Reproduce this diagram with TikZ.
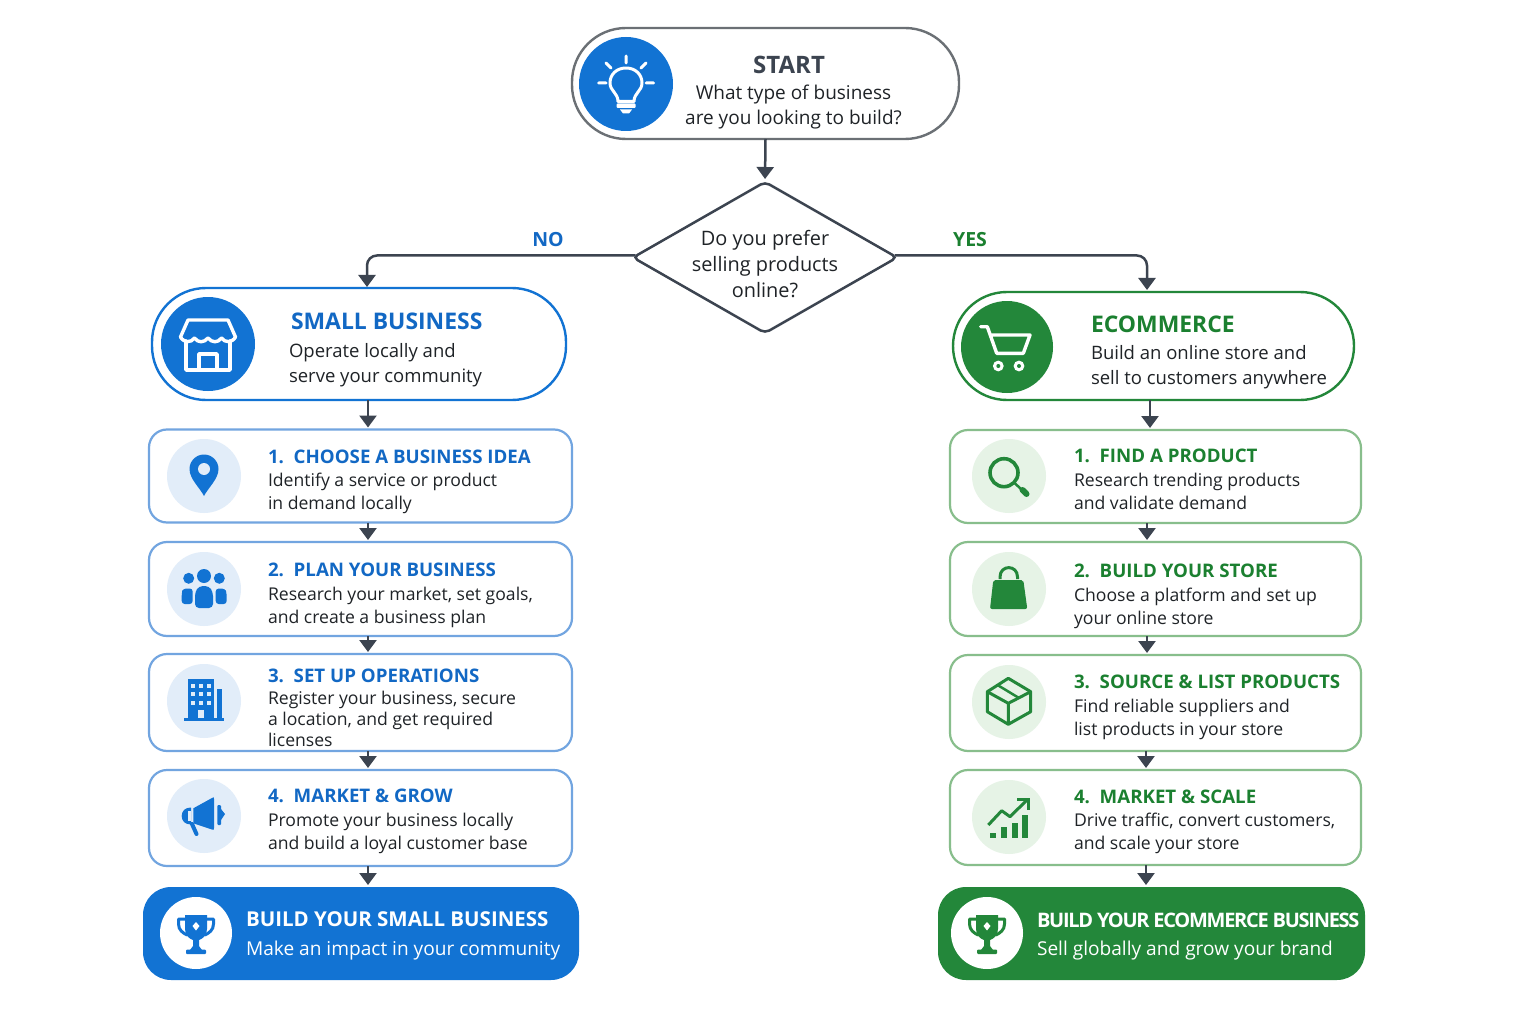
\documentclass[tikz,border=0pt]{standalone}
\usepackage{fontspec}
\setmainfont{Open Sans}
\usetikzlibrary{shapes.geometric,arrows.meta,calc}
\definecolor{ink}{HTML}{1F2327}
\definecolor{slate}{HTML}{3C4450}
\definecolor{pillgray}{HTML}{6B7075}
\definecolor{blue}{HTML}{1273D3}
\definecolor{bluet}{HTML}{1268C4}
\definecolor{blueline}{HTML}{72A5E0}
\definecolor{bluesoft}{HTML}{E2EDF9}
\definecolor{green}{HTML}{23873A}
\definecolor{greent}{HTML}{1B8030}
\definecolor{greenline}{HTML}{88BE8C}
\definecolor{greensoft}{HTML}{E6F3E6}
\newcommand\fsz[2]{\fontsize{#1}{#2}\selectfont}
\newcommand\ph{\vphantom{Ayg}}
\tikzset{
 pill/.style={draw,fill=white,rectangle,rounded corners=54pt,line width=2.4pt,inner sep=0,outer sep=0},
 cardbox/.style={draw,fill=white,rectangle,rounded corners=18pt,line width=2.2pt,inner sep=0,outer sep=0},
 endbox/.style={fill=#1,rectangle,rounded corners=28pt,inner sep=0,outer sep=0},
 disc/.style={circle,fill=#1,inner sep=0,outer sep=0},
 flow/.style={draw=slate,line width=2.5pt,shorten >=#1,-{Triangle[length=12pt,width=17pt]}},
 flow/.default=2pt,
 txt/.style={inner sep=0,outer sep=0,anchor=west,align=left},
 ptxt/.style={txt,execute at begin node=\ph,execute at end node=\ph},
 body/.style={ptxt,text=ink,font=\fsz{17.6}{23},yshift=-2pt},
 sbody/.style={ptxt,text=ink,font=\fsz{18.5}{25},yshift=-2.7pt},
 ctitle/.style={txt,text=#1,font=\fsz{18.7}{22}\bfseries},
 htitle/.style={txt,text=#1,font=\fsz{22.9}{26}\bfseries},
 ftitle/.style={txt,text=white,font=\fsz{20.5}{26}\bfseries},
 fbody/.style={ptxt,text=white,font=\fsz{19.1}{26},yshift=-2.7pt},
 ic/.style={draw=white,line width=3pt,line cap=round,line join=round},
}
\newcommand\icontrophy[1]{%
 \fill[#1] (-11,-18) -- (11,-18) -- (11,-4) .. controls (11,3) and (6,6) .. (3,7) -- (3,13) -- (6,17) -- (-6,17) -- (-3,13) -- (-3,7) .. controls (-6,6) and (-11,3) .. (-11,-4) -- cycle;
 \fill[#1,rounded corners=1pt] (-10,16.5) rectangle (10,21);
 \draw[#1,line width=3pt,line join=round,line cap=round] (-11,-14) -- (-17.5,-14) -- (-17.5,-9) .. controls (-17.5,-3) and (-13,0) .. (-9,2);
 \draw[#1,line width=3pt,line join=round,line cap=round] (11,-14) -- (17.5,-14) -- (17.5,-9) .. controls (17.5,-3) and (13,0) .. (9,2);
 \fill[white] (0,-11) -- (3.5,-7) -- (0,-2.5) -- (-3.5,-7) -- cycle;
}
\begin{document}
\begin{tikzpicture}[x=1pt,y=-1pt]
\useasboundingbox (0,0) rectangle (1536,1024);
\fill[white] (0,0) rectangle (1536,1024);

% top
\node[pill,draw=pillgray,minimum width=387pt,minimum height=111pt] (start) at (765.5,83.5) {};
\node[disc=blue,minimum size=94pt] (startic) at (626,84) {};
\begin{scope}[shift={(626,84)}]
 \draw[ic] (-8,17.5) .. controls (-8,9) and (-16,7) .. (-16,-1) .. controls (-16,-10) and (-9,-16) .. (0,-16) .. controls (9,-16) and (16,-10) .. (16,-1) .. controls (16,7) and (8,9) .. (8,17.5) -- cycle;
 \draw[ic] (0,-28) -- (0,-21) (-20,-21) -- (-15,-16) (20,-21) -- (15,-16) (-27.5,-1) -- (-20,-1) (27.5,-1) -- (20,-1);
 \fill[white,rounded corners=1pt] (-9.5,19.5) rectangle (9.5,24);
 \fill[white] (-6,25.5) -- (6,25.5) -- (3,29.5) -- (-3,29.5) -- cycle;
\end{scope}
\node[txt,anchor=center,text=slate,font=\fsz{24}{28}\bfseries] (starttitle) at (789,65) {START};
\node[sbody,anchor=center,align=center,font=\fsz{19}{25}] (starttext) at (793.5,104.5) {What type of business\\are you looking to build?};

\node[draw=slate,fill=white,diamond,aspect=1.75,minimum width=264pt,minimum height=151pt,rounded corners=5pt,line width=2.5pt,inner sep=0,outer sep=0] (q) at (765,257.5) {};
\node[sbody,anchor=center,align=center,font=\fsz{19.9}{26}] (qtext) at (765,263.5) {Do you prefer\\selling products\\online?};

\node[txt,anchor=center,text=bluet,font=\fsz{19.5}{24}\bfseries] (nolabel) at (548,240) {NO};
\node[txt,anchor=center,text=greent,font=\fsz{19.5}{24}\bfseries] (yeslabel) at (970,240) {YES};

% branch heads
\node[pill,draw=blue,minimum width=414pt,minimum height=112pt] (sb) at (359,344) {};
\node[disc=blue,minimum size=94pt] (sbic) at (208,344) {};
\begin{scope}[shift={(208,344)}]
 \draw[ic,line width=3.4pt] (-20,-24) -- (20,-24) -- (27.5,-7) .. controls (24,-1) and (17,-1) .. (13.5,-6) .. controls (10,-1) and (4,-1) .. (0,-6) .. controls (-4,-1) and (-10,-1) .. (-13.5,-6) .. controls (-17,-1) and (-24,-1) .. (-27.5,-7) -- cycle;
 \draw[ic,line width=3.4pt] (-22,-3) -- (-22,26) -- (22,26) -- (22,-3);
 \draw[ic,line width=3.8pt] (-9,26) -- (-9,10) -- (9,10) -- (9,26);
\end{scope}
\node[htitle=bluet] (sbtitle) at (291,321) {SMALL BUSINESS};
\node[sbody] (sbtext) at (289,362.5) {Operate locally and\\serve your community};

\node[pill,draw=green,minimum width=401pt,minimum height=108pt] (ec) at (1153.5,346) {};
\node[disc=green,minimum size=92pt] (ecic) at (1007,347) {};
\draw[ic,line width=3.4pt] (980.7,326.7) -- (987.3,326.7) -- (996.7,353.3) -- (1023.3,353.3) -- (1030,335) -- (990,335);
\fill[white] (998.3,366) circle (5.4);
\fill[white] (1019,366) circle (5.4);
\fill[green] (998.3,366) circle (2);
\fill[green] (1019,366) circle (2);
\node[htitle=greent] (ectitle) at (1091,324) {ECOMMERCE};
\node[sbody] (ectext) at (1091,364.5) {Build an online store and\\sell to customers anywhere};

% left cards
\node[cardbox,draw=blueline,minimum width=423pt,minimum height=93pt] (l1) at (360.5,476) {};
\node[cardbox,draw=blueline,minimum width=423pt,minimum height=94pt] (l2) at (360.5,589) {};
\node[cardbox,draw=blueline,minimum width=423pt,minimum height=97pt] (l3) at (360.5,702.5) {};
\node[cardbox,draw=blueline,minimum width=423pt,minimum height=96pt] (l4) at (360.5,818) {};
\node[disc=bluesoft,minimum size=74pt] (l1ic) at (204,476) {};
\node[disc=bluesoft,minimum size=74pt] (l2ic) at (204,589) {};
\node[disc=bluesoft,minimum size=74pt] (l3ic) at (204,701) {};
\node[disc=bluesoft,minimum size=74pt] (l4ic) at (204,816) {};
% pin
\begin{scope}[shift={(204,476)}]
 \fill[blue] (0,20) .. controls (-4,12) and (-14.5,3) .. (-14.5,-7) .. controls (-14.5,-15) and (-8,-21.5) .. (0,-21.5) .. controls (8,-21.5) and (14.5,-15) .. (14.5,-7) .. controls (14.5,3) and (4,12) .. (0,20) -- cycle;
 \fill[bluesoft] (0,-7) circle (6);
\end{scope}
% people
\fill[blue] (204,576) circle (7);
\fill[blue] (188.7,578.3) circle (5.5);
\fill[blue] (219.3,578.3) circle (5.5);
\fill[blue,rounded corners=3pt] (181.7,604) -- (181.7,593) -- (183,588.5) -- (192.7,588.5) -- (192.7,604) -- cycle;
\fill[blue,rounded corners=3pt] (226.7,604) -- (226.7,593) -- (225,588.5) -- (215.7,588.5) -- (215.7,604) -- cycle;
\fill[blue,rounded corners=4pt] (195,608) -- (195,592) -- (199,586) -- (209,586) -- (213,592) -- (213,608) -- cycle;
% building
\fill[blue] (187.7,679.3) rectangle (214,718.5);
\fill[blue] (217.3,689) rectangle (221.7,718.5);
\fill[blue] (184.3,718) rectangle (224.3,721.3);
\foreach \cx in {193.3,201,208.7} \foreach \cy in {686,694.3,702.7} \fill[bluesoft] (\cx-2,\cy-2) rectangle (\cx+2,\cy+2);
\fill[bluesoft] (198,710) rectangle (204,718);
% megaphone
\fill[blue] (193.3,808.3) -- (212,798) .. controls (214,797) and (214,797) .. (214,799) -- (214,828) .. controls (214,830) and (214,830) .. (212,829.5) -- (193.3,823.3) -- cycle;
\fill[blue] (191,807.5) .. controls (185,807.5) and (181.7,811) .. (181.7,816) .. controls (181.7,821) and (185,824.5) .. (191,824.5) -- cycle;
\fill[bluesoft] (187.5,811) rectangle (190.5,821);
\draw[blue,line width=4pt,line cap=round] (192,824) -- (196.5,834);
\fill[blue,rounded corners=1pt] (217.3,805) rectangle (221,825);
\fill[blue] (221,809) -- (225,814) -- (221,820) -- cycle;

\node[ctitle=bluet] (l1t) at (268,456.5) {1.\ \ CHOOSE A BUSINESS IDEA};
\node[body] (l1b) at (268,491.5) {Identify a service or product\\in demand locally};
\node[ctitle=bluet] (l2t) at (268,570) {2.\ \ PLAN YOUR BUSINESS};
\node[body] (l2b) at (268,605.5) {Research your market, set goals,\\and create a business plan};
\node[ctitle=bluet] (l3t) at (268,676) {3.\ \ SET UP OPERATIONS};
\node[body,font=\fsz{17.6}{21}] (l3b) at (268,719) {Register your business, secure\\a location, and get required\\licenses};
\node[ctitle=bluet] (l4t) at (268,796) {4.\ \ MARKET \& GROW};
\node[body] (l4b) at (268,831.5) {Promote your business locally\\and build a loyal customer base};

% right cards
\node[cardbox,draw=greenline,minimum width=411pt,minimum height=93pt] (r1) at (1155.5,476.5) {};
\node[cardbox,draw=greenline,minimum width=411pt,minimum height=94pt] (r2) at (1155.5,589) {};
\node[cardbox,draw=greenline,minimum width=411pt,minimum height=96pt] (r3) at (1155.5,703) {};
\node[cardbox,draw=greenline,minimum width=411pt,minimum height=95pt] (r4) at (1155.5,817.5) {};
\node[disc=greensoft,minimum size=74pt] (r1ic) at (1009,476) {};
\node[disc=greensoft,minimum size=74pt] (r2ic) at (1009,589) {};
\node[disc=greensoft,minimum size=74pt] (r3ic) at (1009,702) {};
\node[disc=greensoft,minimum size=74pt] (r4ic) at (1009,817) {};
% magnifier
\draw[green,line width=3.6pt] (1004,472.7) circle (14);
\draw[green,line width=2.5pt] (1014.5,483) -- (1021,489);
\draw[green,line width=6pt,line cap=round] (1022.5,490) -- (1026.5,494);
% bag
\fill[green,rounded corners=2pt] (993.3,580) -- (1023.3,580) -- (1027.3,609) -- (990,609) -- cycle;
\draw[green,line width=3pt] (1000,579) -- (1000,577) .. controls (1000,564.5) and (1017.5,564.5) .. (1017.5,577) -- (1017.5,579);
% box
\begin{scope}[green,line width=3pt,line join=round]
 \draw (1008.3,678.3) -- (1030.7,691.7) -- (1030.7,711.7) -- (1008.3,724.3) -- (987.3,711.7) -- (987.3,691.7) -- cycle;
 \draw (987.3,691.7) -- (1008.3,703.3) -- (1030.7,691.7) (1008.3,703.3) -- (1008.3,724.3);
 \draw[line width=2.5pt] (997.5,685) -- (1019,698);
\end{scope}
% chart
\fill[green] (990,832.7) rectangle (995.7,838.3);
\fill[green] (1001,826.7) rectangle (1007.3,838.3);
\fill[green] (1011.7,823.3) rectangle (1017.7,838.3);
\fill[green] (1022.3,815) rectangle (1028.3,838.3);
\draw[green,line width=3pt,line join=round] (988.3,825) -- (1001.7,810.7) -- (1010,816.7) -- (1027,800);
\draw[green,line width=3pt,line join=miter] (1017.3,799.5) -- (1028,799.5) -- (1028,810);

\node[ctitle=greent] (r1t) at (1074,456) {1.\ \ FIND A PRODUCT};
\node[body] (r1b) at (1074,491.5) {Research trending products\\and validate demand};
\node[ctitle=greent] (r2t) at (1074,571) {2.\ \ BUILD YOUR STORE};
\node[body] (r2b) at (1074,606) {Choose a platform and set up\\your online store};
\node[ctitle=greent] (r3t) at (1074,682) {3.\ \ SOURCE \& LIST PRODUCTS};
\node[body] (r3b) at (1074,717.5) {Find reliable suppliers and\\list products in your store};
\node[ctitle=greent] (r4t) at (1074,797) {4.\ \ MARKET \& SCALE};
\node[body] (r4b) at (1074,831.5) {Drive traffic, convert customers,\\and scale your store};

% end boxes
\node[endbox=blue,minimum width=436pt,minimum height=93pt] (lend) at (361,933.5) {};
\node[endbox=green,minimum width=427pt,minimum height=93pt] (rend) at (1151.5,933.5) {};
\node[disc=white,minimum size=72pt] (lendic) at (196,933) {};
\node[disc=white,minimum size=72pt] (rendic) at (987,933) {};
\begin{scope}[shift={(196,933)}]\icontrophy{blue}\end{scope}
\begin{scope}[shift={(987,933)}]\icontrophy{green}\end{scope}
\node[ftitle] (lendt) at (246,919.5) {BUILD YOUR SMALL BUSINESS};
\node[fbody] (lendb) at (246,948) {Make an impact in your community};
\node[ftitle,font=\fsz{20}{26}\bfseries\addfontfeature{LetterSpace=-6.4}] (rendt) at (1037,920.5) {BUILD YOUR ECOMMERCE BUSINESS};
\node[fbody] (rendb) at (1037,948) {Sell globally and grow your brand};

% connectors
\draw[flow=3pt] (start.south) -- (q.north);
\draw[flow=1pt,rounded corners=10pt] ([xshift=2.5pt,yshift=2pt]q.west) -| ([xshift=8pt]sb.north);
\draw[flow=2pt,rounded corners=10pt] ([xshift=-2.5pt,yshift=2pt]q.east) -| ([xshift=-6.5pt]ec.north);
\draw[flow] ([xshift=9pt]sb.south) -- ([xshift=7.5pt]l1.north);
\draw[flow] ([xshift=7.5pt]l1.south) -- ([xshift=7.5pt]l2.north);
\draw[flow] ([xshift=7.5pt]l2.south) -- ([xshift=7.5pt]l3.north);
\draw[flow] ([xshift=7.5pt]l3.south) -- ([xshift=7.5pt]l4.north);
\draw[flow] ([xshift=7.5pt]l4.south) -- ([xshift=7pt]lend.north);
\draw[flow] ([xshift=-3.5pt]ec.south) -- ([xshift=-5.5pt]r1.north);
\draw[flow] ([xshift=-8.5pt]r1.south) -- ([xshift=-8.5pt]r2.north);
\draw[flow] ([xshift=-8.5pt]r2.south) -- ([xshift=-8.5pt]r3.north);
\draw[flow] ([xshift=-9.5pt]r3.south) -- ([xshift=-9.5pt]r4.north);
\draw[flow] ([xshift=-9.5pt]r4.south) -- ([xshift=-5.5pt]rend.north);
\end{tikzpicture}
\end{document}
